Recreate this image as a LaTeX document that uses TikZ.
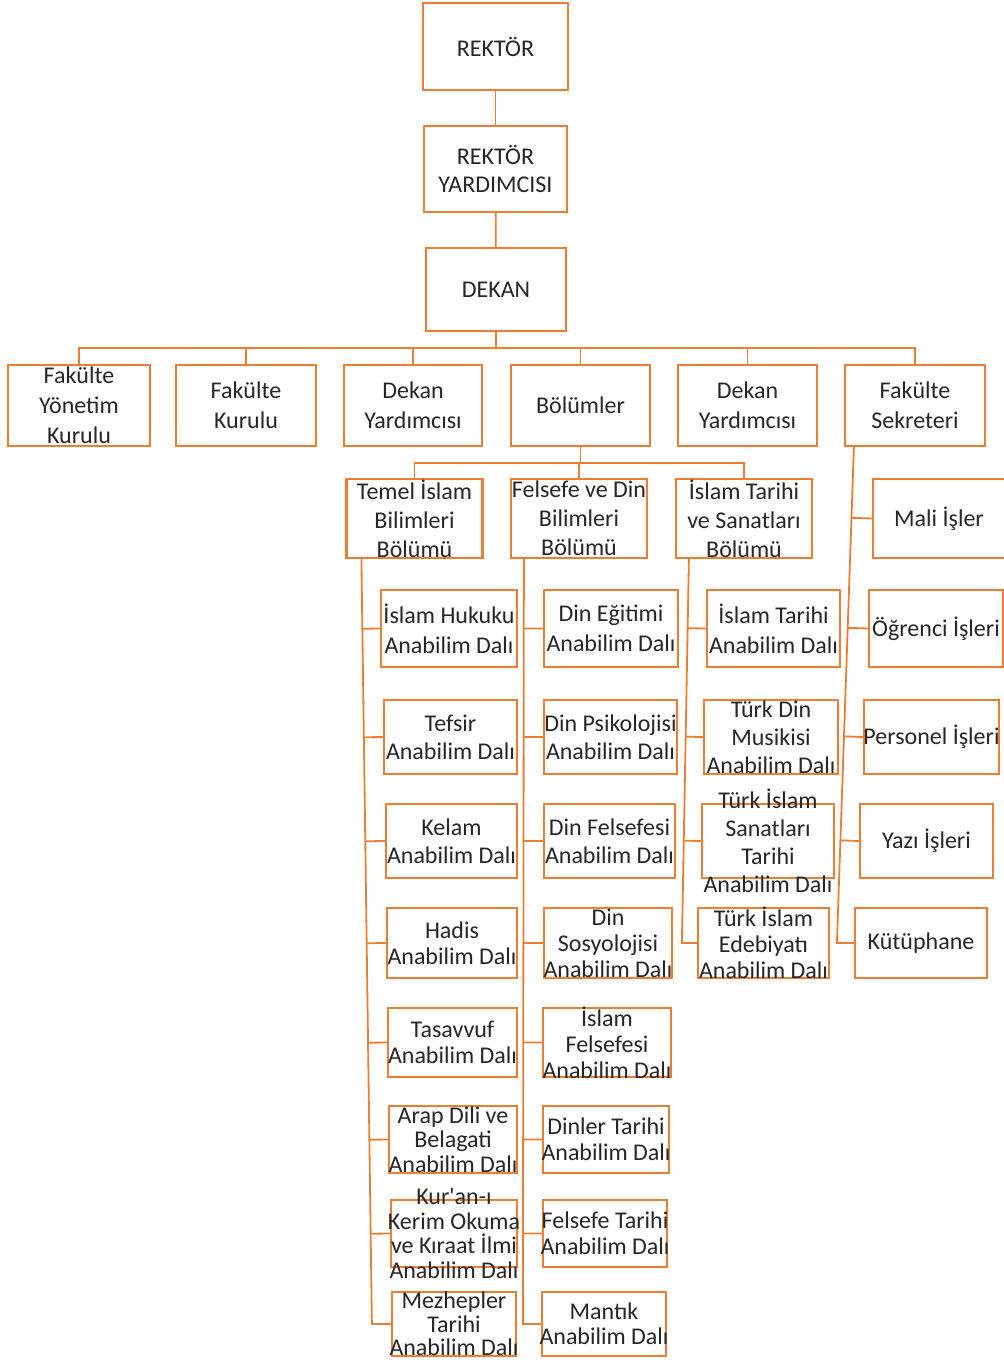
\documentclass[tikz,border=0pt]{standalone}
\usepackage{fontspec}
\setmainfont{Carlito}
\usepackage{tikz}
\usetikzlibrary{calc}
\definecolor{orgline}{RGB}{237,125,49}
\definecolor{txtgray}{RGB}{38,38,38}
\tikzstyle{unitbox} = [rectangle, draw=orgline, line width=1.1pt,
fill=white, text=txtgray, align=center, inner sep=-30pt,
font=\fontsize{12}{14}\selectfont]
\tikzstyle{topbox} = [unitbox, minimum width=71.5pt, minimum height=43pt]
\tikzstyle{rowbox} = [unitbox, minimum width=70pt, minimum height=40.5pt,
font=\fontsize{12}{15}\selectfont]
\tikzstyle{deptbox} = [unitbox, minimum width=68pt, minimum height=39.5pt,
font=\fontsize{12}{14.5}\selectfont]
\tikzstyle{subbox} = [unitbox, minimum width=66pt, minimum height=37pt]
\tikzstyle{lowbox} = [subbox, font=\fontsize{12}{13}\selectfont]
\tikzstyle{tightbox} = [subbox, font=\fontsize{12}{12.3}\selectfont]
\tikzstyle{link} = [draw=orgline, line width=0.9pt]

\begin{document}
\begin{tikzpicture}[x=0.5pt, y=-0.5pt]

\useasboundingbox (0,0) rectangle (1003,1361);

\node (rektor) [topbox, minimum width=72.5pt, minimum height=43.5pt]
at (495.5,46.5) {REKTÖR};

\node (ryard) [topbox] at (495.5,169) {REKTÖR\\YARDIMCISI};

\node (dekan) [topbox, minimum width=70pt, minimum height=41.5pt]
at (496,289.5) {DEKAN};

\node (fyk) [rowbox, minimum width=71pt] at (79,405.5)
{Fakülte\\Yönetim\\Kurulu};
\node (fk) [rowbox] at (246,405.5) {Fakülte\\Kurulu};
\node (dy1) [rowbox, minimum width=69pt] at (413,405.5) {Dekan\\Yardımcısı};
\node (bol) [rowbox, minimum width=69.5pt] at (580.5,405.5) {Bölümler};
\node (dy2) [rowbox, minimum width=69.5pt] at (747.5,405.5) {Dekan\\Yardımcısı};
\node (fs) [rowbox] at (915,405.5) {Fakülte\\Sekreteri};

\node (temel) [deptbox] at (414.5,518.5) {Temel İslam\\Bilimleri\\Bölümü};
\node (felsefe) [deptbox] at (579,518.5) {Felsefe ve Din\\Bilimleri\\Bölümü};
\node (tarih) [deptbox] at (744,518.5) {İslam Tarihi\\ve Sanatları\\Bölümü};

\node (hukuk) [subbox, minimum width=68pt, minimum height=38.5pt,
font=\fontsize{12}{15}\selectfont]
at (449,628.5) {İslam Hukuku\\Anabilim Dalı};
\node (tefsir) [subbox, minimum width=66.5pt] at (450.5,737)
{Tefsir\\Anabilim Dalı};
\node (kelam) [subbox, minimum width=65.5pt] at (451.5,841)
{Kelam\\Anabilim Dalı};
\node (hadis) [lowbox, minimum width=65pt, minimum height=35pt]
at (452,943) {Hadis\\Anabilim Dalı};
\node (tasavvuf) [lowbox, minimum width=64.5pt, minimum height=34.5pt]
at (452.5,1042.5) {Tasavvuf\\Anabilim Dalı};
\node (arap) [tightbox, minimum width=64pt, minimum height=33.5pt]
at (453,1139.5) {Arap Dili ve\\Belagati\\Anabilim Dalı};
\node (kuran) [tightbox, minimum width=63pt, minimum height=33.5pt]
at (454,1233.5)
{Kur\textquotesingle an-ı\\Kerim Okuma\\ve Kıraat İlmi\\Anabilim Dalı};
\node (mezhep) [tightbox, minimum width=62pt, minimum height=32pt,
font=\fontsize{12}{11.8}\selectfont]
at (454,1324) {Mezhepler\\Tarihi\\Anabilim Dalı};

\node (egitim) [subbox, minimum width=67pt, minimum height=38.5pt,
font=\fontsize{12}{15}\selectfont]
at (611,628.5) {Din Eğitimi\\Anabilim Dalı};
\node (psik) [subbox, minimum width=66.5pt] at (610.5,737)
{Din Psikolojisi\\Anabilim Dalı};
\node (dfelsefe) [subbox, minimum width=65.5pt] at (609.5,841)
{Din Felsefesi\\Anabilim Dalı};
\node (sosyo) [lowbox, minimum width=64pt, minimum height=35pt]
at (608,943) {Din\\Sosyolojisi\\Anabilim Dalı};
\node (ifelsefe) [lowbox, minimum width=64pt, minimum height=34.5pt]
at (607,1042.5) {İslam\\Felsefesi\\Anabilim Dalı};
\node (dinler) [lowbox, minimum width=63pt, minimum height=33.5pt]
at (606,1139.5) {Dinler Tarihi\\Anabilim Dalı};
\node (ftarih) [lowbox, minimum width=62pt, minimum height=33.5pt]
at (605,1233.5) {Felsefe Tarihi\\Anabilim Dalı};
\node (mantik) [tightbox, minimum width=62pt, minimum height=32pt]
at (604,1324) {Mantık\\Anabilim Dalı};

\node (itarih) [subbox, minimum width=66.5pt, minimum height=38.5pt,
font=\fontsize{12}{15}\selectfont]
at (773.5,628.5) {İslam Tarihi\\Anabilim Dalı};
\node (musiki) [subbox, minimum width=67pt] at (771,737)
{Türk Din\\Musikisi\\Anabilim Dalı};
\node (sanat) [subbox] at (768,841)
{Türk İslam\\Sanatları\\Tarihi\\Anabilim Dalı};
\node (edebiyat) [lowbox, minimum width=65.5pt, minimum height=35pt]
at (763.5,943) {Türk İslam\\Edebiyatı\\Anabilim Dalı};

\node (mali) [subbox, minimum height=39.5pt] at (939,518.5) {Mali İşler};
\node (ogrenci) [subbox, minimum width=67pt, minimum height=38.5pt]
at (936,628.5) {Öğrenci İşleri};
\node (personel) [subbox, minimum width=67.5pt] at (931.5,737)
{Personel İşleri};
\node (yazi) [subbox, minimum width=66.5pt] at (926.5,841) {Yazı İşleri};
\node (kutup) [subbox, minimum height=35pt] at (921,943) {Kütüphane};

\draw [link] (rektor) -- (ryard);
\draw [link] (ryard) -- (dekan);

\draw [link] (dekan.south) -- ++(0,16) -| (fyk.north);
\draw [link] (dekan.south) -- ++(0,16) -| (fk.north);
\draw [link] (dekan.south) -- ++(0,16) -| (dy1.north);
\draw [link] (dekan.south) -- ++(0,16) -| (bol.north);
\draw [link] (dekan.south) -- ++(0,16) -| (dy2.north);
\draw [link] (dekan.south) -- ++(0,16) -| (fs.north);

\draw [link] (bol.south) -- ++(0,16) -| (temel.north);
\draw [link] (bol.south) -- ++(0,16) -| (felsefe.north);
\draw [link] (bol.south) -- ++(0,16) -| (tarih.north);

\coordinate (temelTop) at ([xshift=8pt]temel.south west);
\coordinate (temelEnd) at ([xshift=-9.5pt]mezhep.west);
\draw [link] (temelTop) -- (temelEnd) -- (mezhep.west);
\draw [link] ($(temelTop)!(hukuk.west)!(temelEnd)$) -- (hukuk.west);
\draw [link] ($(temelTop)!(tefsir.west)!(temelEnd)$) -- (tefsir.west);
\draw [link] ($(temelTop)!(kelam.west)!(temelEnd)$) -- (kelam.west);
\draw [link] ($(temelTop)!(hadis.west)!(temelEnd)$) -- (hadis.west);
\draw [link] ($(temelTop)!(tasavvuf.west)!(temelEnd)$) -- (tasavvuf.west);
\draw [link] ($(temelTop)!(arap.west)!(temelEnd)$) -- (arap.west);
\draw [link] ($(temelTop)!(kuran.west)!(temelEnd)$) -- (kuran.west);

\coordinate (felsefeTop) at ([xshift=7pt]felsefe.south west);
\coordinate (felsefeEnd) at ([xshift=-9pt]mantik.west);
\draw [link] (felsefeTop) -- (felsefeEnd) -- (mantik.west);
\draw [link] ($(felsefeTop)!(egitim.west)!(felsefeEnd)$) -- (egitim.west);
\draw [link] ($(felsefeTop)!(psik.west)!(felsefeEnd)$) -- (psik.west);
\draw [link] ($(felsefeTop)!(dfelsefe.west)!(felsefeEnd)$) -- (dfelsefe.west);
\draw [link] ($(felsefeTop)!(sosyo.west)!(felsefeEnd)$) -- (sosyo.west);
\draw [link] ($(felsefeTop)!(ifelsefe.west)!(felsefeEnd)$) -- (ifelsefe.west);
\draw [link] ($(felsefeTop)!(dinler.west)!(felsefeEnd)$) -- (dinler.west);
\draw [link] ($(felsefeTop)!(ftarih.west)!(felsefeEnd)$) -- (ftarih.west);

\coordinate (tarihTop) at ([xshift=7pt]tarih.south west);
\coordinate (tarihEnd) at ([xshift=-7.5pt]edebiyat.west);
\draw [link] (tarihTop) -- (tarihEnd) -- (edebiyat.west);
\draw [link] ($(tarihTop)!(itarih.west)!(tarihEnd)$) -- (itarih.west);
\draw [link] ($(tarihTop)!(musiki.west)!(tarihEnd)$) -- (musiki.west);
\draw [link] ($(tarihTop)!(sanat.west)!(tarihEnd)$) -- (sanat.west);

\coordinate (fsTop) at ([xshift=5pt]fs.south west);
\coordinate (fsEnd) at ([xshift=-8.5pt]kutup.west);
\draw [link] (fsTop) -- (fsEnd) -- (kutup.west);
\draw [link] ($(fsTop)!(mali.west)!(fsEnd)$) -- (mali.west);
\draw [link] ($(fsTop)!(ogrenci.west)!(fsEnd)$) -- (ogrenci.west);
\draw [link] ($(fsTop)!(personel.west)!(fsEnd)$) -- (personel.west);
\draw [link] ($(fsTop)!(yazi.west)!(fsEnd)$) -- (yazi.west);

\end{tikzpicture}
\end{document}
